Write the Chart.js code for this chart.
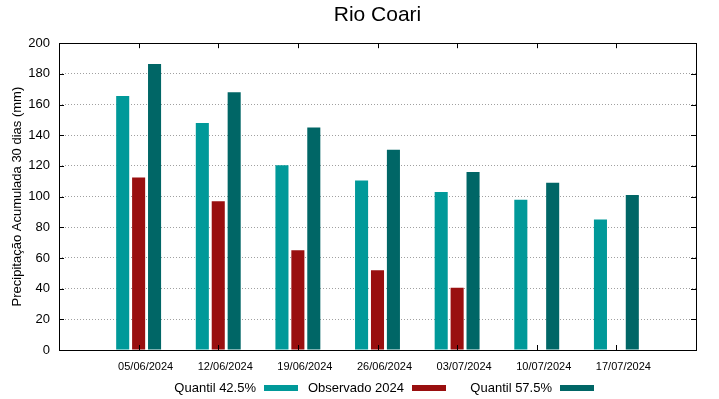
<!DOCTYPE html>
<html>
<head>
<meta charset="utf-8">
<script src="https://cdn.jsdelivr.net/npm/chart.js@4.4.1/dist/chart.umd.min.js"></script>
<style>
  html, body { margin: 0; padding: 0; background: #fff; }
  #wrap { width: 719px; height: 399px; position: relative; }
</style>
</head>
<body>
<div id="wrap"><canvas id="chart"></canvas></div>
<script>
// dates (weekly)
const dates = ['05/06/2024', '12/06/2024', '19/06/2024', '26/06/2024', '03/07/2024', '10/07/2024', '17/07/2024'];
const quantil425 = [165.5, 148, 120.5, 110.5, 103, 98, 85];
const observado2024 = [112.5, 97, 65, 52, 40.5, null, null];
const quantil575 = [186.5, 168, 145, 130.5, 116, 109, 101];
const seriesNames = ['Quantil 42.5%', 'Observado 2024', 'Quantil 57.5%'];
const seriesColors = ['#009999', '#990f0f', '#006666'];
const yTicks = [0, 20, 40, 60, 80, 100, 120, 140, 160, 180, 200];

const FONT = "'Liberation Sans', Arial, sans-serif";

// empty slot on each side, like gnuplot's xrange
const pad = arr => [null, ...arr, null];
const labels = ['', ...dates, ''];

// frame, inward tics, legend (text before sample like gnuplot)
const gnuplotStyle = {
  id: 'gnuplotStyle',
  afterDraw(chart) {
    const ctx = chart.ctx;
    const a = chart.chartArea;
    const x = chart.scales.x, y = chart.scales.y;
    ctx.save();
    ctx.strokeStyle = '#000';
    ctx.lineWidth = 1;
    ctx.beginPath();
    yTicks.forEach(v => {
      const py = Math.round(y.getPixelForValue(v)) + 0.5;
      ctx.moveTo(a.left, py); ctx.lineTo(a.left + 5, py);
      ctx.moveTo(a.right, py); ctx.lineTo(a.right - 5, py);
    });
    dates.forEach((d, i) => {
      const px = Math.round(x.getPixelForValue(i + 1)) + 0.5;
      ctx.moveTo(px, a.bottom); ctx.lineTo(px, a.bottom - 5);
      ctx.moveTo(px, a.top); ctx.lineTo(px, a.top + 5);
    });
    ctx.stroke();
    ctx.strokeRect(Math.round(a.left) + 0.5, Math.round(a.top) + 0.5,
                   Math.round(a.right - a.left), Math.round(a.bottom - a.top));

    // legend
    const textEnds = [256, 404, 552];
    ctx.font = '13px ' + FONT;
    ctx.textAlign = 'right';
    ctx.textBaseline = 'middle';
    seriesNames.forEach((name, i) => {
      ctx.fillStyle = '#000';
      ctx.fillText(name, textEnds[i], 388);
      ctx.fillStyle = seriesColors[i];
      ctx.fillRect(textEnds[i] + 8, 385, 34, 6);
    });
    ctx.restore();
  }
};

new Chart(document.getElementById('chart'), {
  type: 'bar',
  data: {
    labels: labels,
    datasets: [
      { label: seriesNames[0], data: pad(quantil425), backgroundColor: seriesColors[0] },
      { label: seriesNames[1], data: pad(observado2024), backgroundColor: seriesColors[1] },
      { label: seriesNames[2], data: pad(quantil575), backgroundColor: seriesColors[2] }
    ]
  },
  options: {
    responsive: true,
    maintainAspectRatio: false,
    animation: false,
    categoryPercentage: 0.6,
    barPercentage: 0.82,
    layout: { padding: { left: 0, right: 23, top: 0, bottom: 0 } },
    plugins: {
      legend: { display: false },
      tooltip: { enabled: false },
      title: {
        display: true,
        fullSize: false,
        text: 'Rio Coari',
        color: '#000',
        font: { family: FONT, size: 21, weight: 'normal' },
        padding: { top: 3, bottom: 15 }
      }
    },
    scales: {
      x: {
        offset: false,
        grid: { display: false, drawTicks: false },
        border: { display: false },
        ticks: {
          color: '#000',
          font: { family: FONT, size: 11 },
          maxRotation: 0,
          autoSkip: false,
          labelOffset: 7,
          padding: 10
        },
        afterFit(scale) { scale.height = 49; }
      },
      y: {
        min: 0,
        max: 200,
        afterBuildTicks(scale) { scale.ticks = yTicks.map(v => ({ value: v })); },
        grid: {
          color: ctx => (ctx.tick.value === 0 || ctx.tick.value === 200) ? 'rgba(0,0,0,0)' : '#a0a0a0',
          lineWidth: 1,
          drawTicks: false
        },
        border: { display: false, dash: [1, 2] },
        ticks: {
          color: '#000',
          font: { family: FONT, size: 13 },
          padding: 9
        },
        title: {
          display: true,
          text: 'Precipitação Acumulada 30 dias (mm)',
          color: '#000',
          font: { family: FONT, size: 13 },
          padding: { top: 10, bottom: 0 }
        },
        afterFit(scale) { scale.width = 59; }
      }
    }
  },
  plugins: [gnuplotStyle]
});
</script>
</body>
</html>
